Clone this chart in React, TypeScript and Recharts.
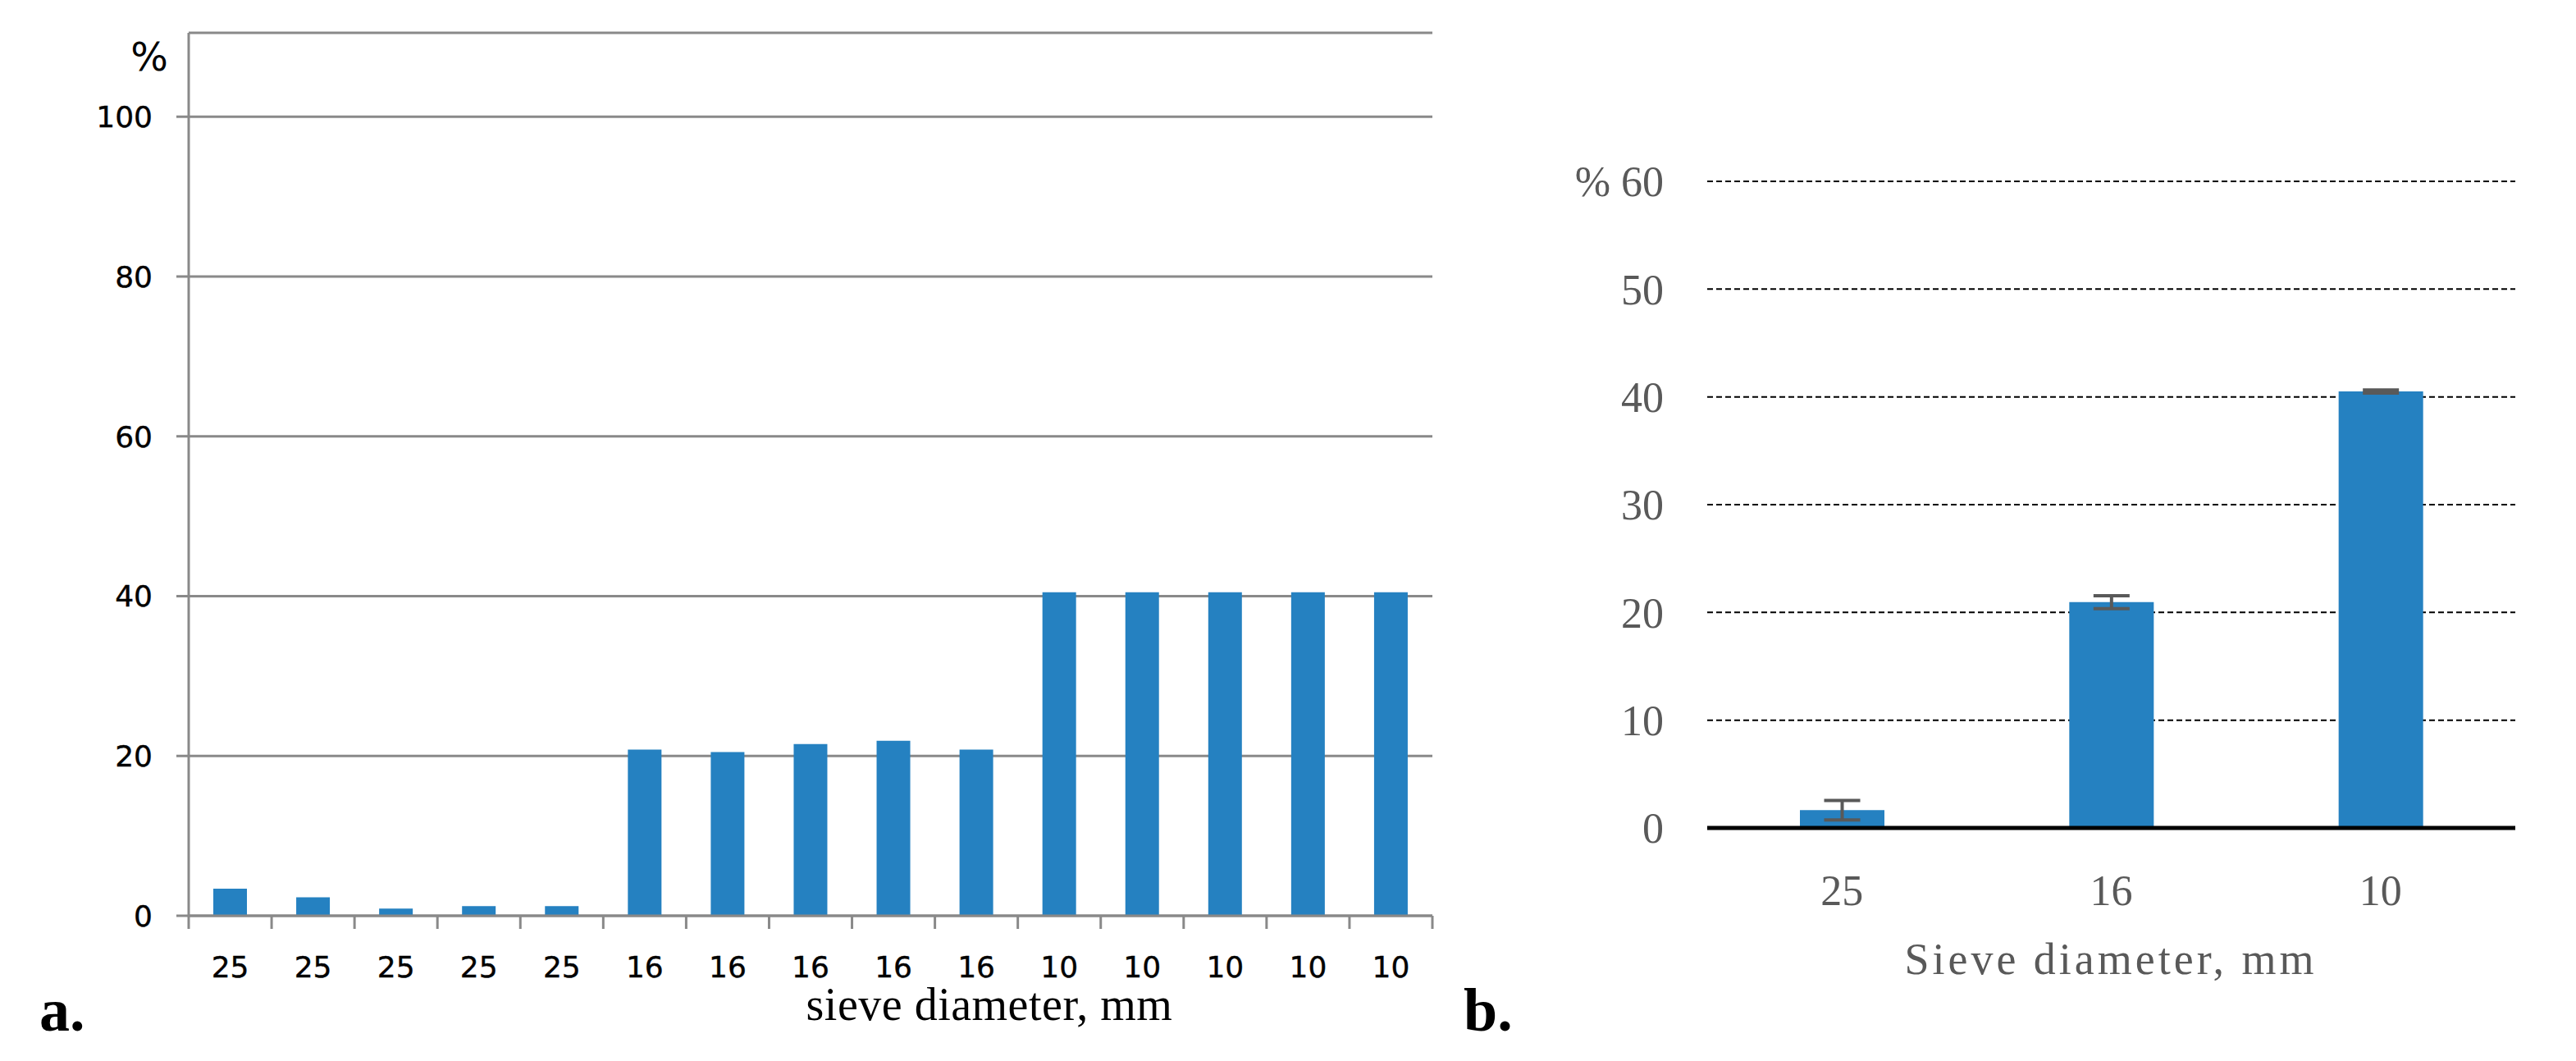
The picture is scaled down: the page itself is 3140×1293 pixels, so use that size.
import { BarChart, Bar, XAxis, YAxis, CartesianGrid, ErrorBar } from "recharts";

// panel a: each sample, labelled with its sieve diameter
const sieveA = ["25", "25", "25", "25", "25", "16", "16", "16", "16", "16", "10", "10", "10", "10", "10"];
const fractionA = [3.4, 2.3, 0.9, 1.2, 1.2, 20.8, 20.5, 21.5, 21.9, 20.8, 40.5, 40.5, 40.5, 40.5, 40.5];
const ticksA = [0, 20, 40, 60, 80, 100];

// panel b: mean per sieve with spread
const sieveB = ["25", "16", "10"];
const meanB = [1.65, 20.95, 40.5];
const errB = [0.9, 0.6, 0.15];
const ticksB = [0, 10, 20, 30, 40, 50, 60];

const dataA = sieveA.map((s, i) => ({ id: i, sieve: s, value: fractionA[i] }));
const dataB = sieveB.map((s, i) => ({ sieve: s, value: meanB[i], err: errB[i] }));

const blue = "#2581c1";
const greyLine = "#898989";
const sans = "DejaVu Sans, Verdana, sans-serif";
const serif = "Liberation Serif, Times New Roman, serif";

// category ticks of panel a sit on the band edges, labels in the middle
function EdgeTick(props: any) {
  const { x, y, payload, index } = props;
  const half = payload?.offset ?? 50.5;
  const last = index === sieveA.length - 1;
  return (
    <g>
      <line x1={x - half} x2={x - half} y1={y} y2={y + 16} stroke={greyLine} strokeWidth={3} />
      {last && <line x1={x + half} x2={x + half} y1={y} y2={y + 16} stroke={greyLine} strokeWidth={3} />}
      <text x={x} y={y + 75} textAnchor="middle" fontSize={36} fontFamily={sans} fill="#000" stroke="#000" strokeWidth={0.4}>
        {sieveA[payload.value] ?? payload.value}
      </text>
    </g>
  );
}

export default function App() {
  return (
    <div style={{ position: "absolute", left: 0, top: 0, width: 3140, height: 1293, background: "#fff" }}>
      <div style={{ position: "absolute", left: 0, top: 0 }}>
        <BarChart width={1800} height={1293} data={dataA} margin={{ top: 40, right: 54, bottom: 77, left: 0 }}>
          <CartesianGrid vertical={false} stroke={greyLine} strokeWidth={3} />
          <XAxis
            dataKey="id"
            type="category"
            height={100}
            interval={0}
            tickLine={false}
            tickSize={0}
            tickMargin={0}
            axisLine={{ stroke: greyLine, strokeWidth: 3 }}
            tick={<EdgeTick />}
          />
          <YAxis
            width={230}
            domain={[0, 110.5]}
            ticks={ticksA}
            interval={0}
            tickSize={15}
            tickMargin={29}
            tickLine={{ stroke: greyLine, strokeWidth: 3 }}
            axisLine={{ stroke: greyLine, strokeWidth: 3 }}
            tick={{ fill: "#000", stroke: "#000", strokeWidth: 0.4, fontSize: 36, fontFamily: sans }}
          />
          <Bar dataKey="value" fill={blue} barSize={41} isAnimationActive={false} />
        </BarChart>
      </div>

      <div style={{ position: "absolute", left: 1780, top: 0 }}>
        <BarChart width={1360} height={1293} data={dataB} margin={{ top: 221, right: 74, bottom: 184, left: 0 }}>
          <CartesianGrid vertical={false} stroke="#000" strokeWidth={2} strokeDasharray="7 4" />
          <XAxis
            dataKey="sieve"
            height={100}
            tickLine={false}
            tickSize={0}
            tickMargin={57}
            axisLine={{ stroke: "#000", strokeWidth: 5 }}
            tick={{ fill: "#595959", fontSize: 52, fontFamily: serif }}
          />
          <YAxis
            width={301}
            domain={[0, 60]}
            ticks={ticksB}
            interval={0}
            axisLine={false}
            tickLine={false}
            tickSize={0}
            tickMargin={53}
            tickFormatter={(v: number) => (v === 60 ? "% 60" : String(v))}
            tick={{ fill: "#595959", fontSize: 52, fontFamily: serif }}
          />
          <Bar dataKey="value" fill={blue} barSize={103} isAnimationActive={false}>
            <ErrorBar dataKey="err" width={22} strokeWidth={4} stroke="#595959" direction="y" isAnimationActive={false} />
          </Bar>
        </BarChart>
      </div>

      <svg
        width={3140}
        height={1293}
        style={{ position: "absolute", left: 0, top: 0, pointerEvents: "none" }}
      >
        <text x={182} y={86} textAnchor="middle" fontSize={48} fontFamily={sans} fill="#000">
          %
        </text>
        <text x={1206} y={1243} textAnchor="middle" fontSize={56} fontFamily={serif} letterSpacing={0.5} fill="#000">
          sieve diameter, mm
        </text>
        <text x={48} y={1256} fontSize={74} fontWeight="bold" fontFamily={serif} fill="#000">
          a.
        </text>
        <text x={2573} y={1187} textAnchor="middle" fontSize={54} fontFamily={serif} letterSpacing={4} fill="#595959">
          Sieve diameter, mm
        </text>
        <text x={1784} y={1256} fontSize={74} fontWeight="bold" fontFamily={serif} fill="#000">
          b.
        </text>
      </svg>
    </div>
  );
}
